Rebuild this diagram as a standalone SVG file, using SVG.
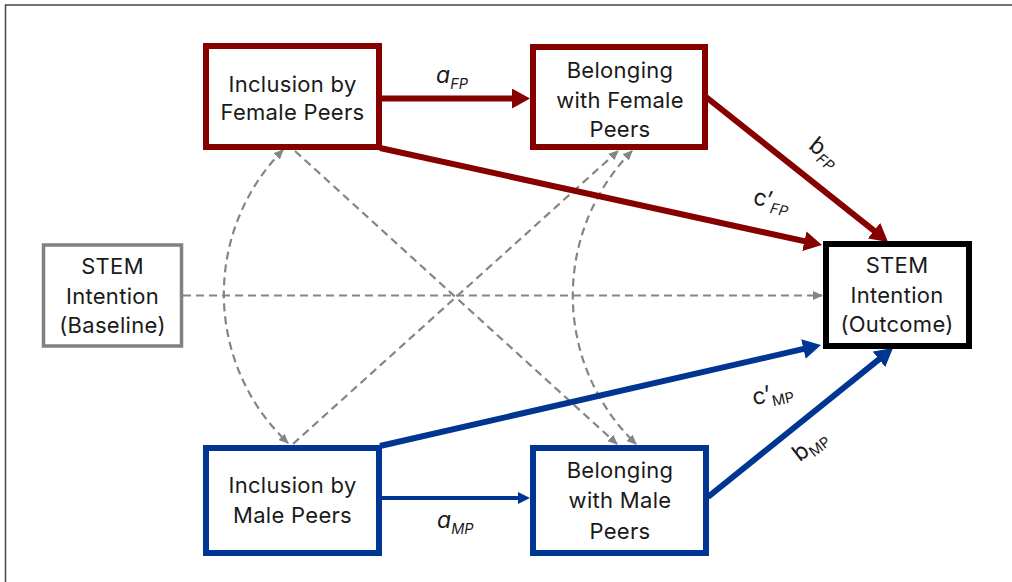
<svg xmlns="http://www.w3.org/2000/svg" width="1012" height="582" viewBox="0 0 1012 582">
<style>
.t{font-family:Inter,"Open Sans",sans-serif;font-size:22px;letter-spacing:0.3px;fill:#1a1a1a;text-anchor:middle}
.k{font-family:Inter,"Open Sans",sans-serif;font-size:23px;fill:#1a1a1a;text-anchor:middle}
.l{font-family:Inter,"Open Sans",sans-serif;font-size:23px;fill:#1a1a1a}
.s{font-size:14.5px}
.red{fill:#fff;stroke:#860000;stroke-width:6}
.blue{fill:#fff;stroke:#003592;stroke-width:6}
.red-l{fill:none;stroke:#860000;stroke-width:6}
.blue-l{fill:none;stroke:#003592;stroke-width:6}
.dash{fill:none;stroke:#858585;stroke-width:2.2;stroke-dasharray:8 5}
</style>
<defs>
<marker id="hr" markerUnits="userSpaceOnUse" markerWidth="18" markerHeight="20" refX="8" refY="10" orient="auto"><path d="M0,0 L18,10 L0,20 z" fill="#860000"/></marker>
<marker id="hb" markerUnits="userSpaceOnUse" markerWidth="18" markerHeight="20" refX="8" refY="10" orient="auto"><path d="M0,0 L18,10 L0,20 z" fill="#003592"/></marker>
<marker id="hbs" markerUnits="userSpaceOnUse" markerWidth="12" markerHeight="12" refX="6" refY="6" orient="auto"><path d="M0,0 L12,6 L0,12 z" fill="#003592"/></marker>
<marker id="hg" markerUnits="userSpaceOnUse" markerWidth="10" markerHeight="9" refX="9" refY="4.5" orient="auto-start-reverse"><path d="M0,0 L10,4.5 L0,9 z" fill="#858585"/></marker>
</defs>
<path d="M5.5,582 V5 H1012" fill="none" stroke="#444" stroke-width="1.5"/>
<g id="connectors">
<path class="dash" d="M183,295.5 H822" marker-end="url(#hg)"/>
<path class="dash" d="M295,151 L617,444" marker-end="url(#hg)"/>
<path class="dash" d="M293,444 L618,151" marker-end="url(#hg)"/>
<path class="dash" d="M283,150 A205,205 0 0 0 288,443" marker-start="url(#hg)" marker-end="url(#hg)"/>
<path class="dash" d="M632,151 A206,206 0 0 0 636,444" marker-start="url(#hg)" marker-end="url(#hg)"/>
<path class="red-l" d="M380,98.5 H520" marker-end="url(#hr)"/>
<path class="red-l" d="M706,97 L880.2,235.7" marker-end="url(#hr)"/>
<path class="red-l" d="M380,148 L812.2,242.9" marker-end="url(#hr)"/>
<path class="blue-l" d="M380,446 L811.2,347.2" marker-end="url(#hb)"/>
<path class="blue-l" d="M708,497 L885.2,354.3" marker-end="url(#hb)"/>
<path class="blue-l" style="stroke-width:4" d="M380,498 H524" marker-end="url(#hbs)"/>
<text class="l" x="436" y="83"><tspan font-style="italic">a</tspan><tspan class="s" font-style="italic" dy="6">FP</tspan></text>
<text class="l" x="437" y="528"><tspan font-style="italic">a</tspan><tspan class="s" font-style="italic" dy="6">MP</tspan></text>
<text class="k" transform="translate(823,154) rotate(39)" x="0" y="5">b<tspan class="s" font-style="italic" dy="5">FP</tspan></text>
<text class="k" transform="translate(771,203) rotate(12)" x="0" y="5">c’<tspan class="s" font-style="italic" dy="5">FP</tspan></text>
<text class="k" transform="translate(773,396) rotate(-12)" x="0" y="5">c’<tspan class="s" dy="5">MP</tspan></text>
<text class="k" transform="translate(811,447) rotate(-38)" x="0" y="5">b<tspan class="s" dy="5">MP</tspan></text>
</g>
<g id="inclusion-female">
<rect class="red" x="206" y="46" width="173" height="101"/>
<text class="t" x="292.5" y="92">Inclusion by</text>
<text class="t" x="292.5" y="120">Female Peers</text>
</g>
<g id="belonging-female">
<rect class="red" x="533" y="47" width="172" height="100"/>
<text class="t" x="620" y="78">Belonging</text>
<text class="t" x="620" y="107.5">with Female</text>
<text class="t" x="620" y="137">Peers</text>
</g>
<g id="inclusion-male">
<rect class="blue" x="206" y="448" width="173" height="105"/>
<text class="t" x="292.5" y="493">Inclusion by</text>
<text class="t" x="292.5" y="522.5">Male Peers</text>
</g>
<g id="belonging-male">
<rect class="blue" x="533" y="448" width="173" height="105"/>
<text class="t" x="620" y="478">Belonging</text>
<text class="t" x="620" y="508">with Male</text>
<text class="t" x="620" y="539">Peers</text>
</g>
<g id="stem-baseline">
<rect x="43.5" y="245" width="138" height="101" fill="#fff" stroke="#808080" stroke-width="3.5"/>
<text class="t" x="112.5" y="274">STEM</text>
<text class="t" x="112.5" y="304">Intention</text>
<text class="t" x="112.5" y="333">(Baseline)</text>
</g>
<g id="stem-outcome">
<rect x="826" y="244" width="143" height="102" fill="#fff" stroke="#000" stroke-width="6"/>
<text class="t" x="897" y="273">STEM</text>
<text class="t" x="897" y="302.5">Intention</text>
<text class="t" x="897" y="331.5">(Outcome)</text>
</g>
</svg>
